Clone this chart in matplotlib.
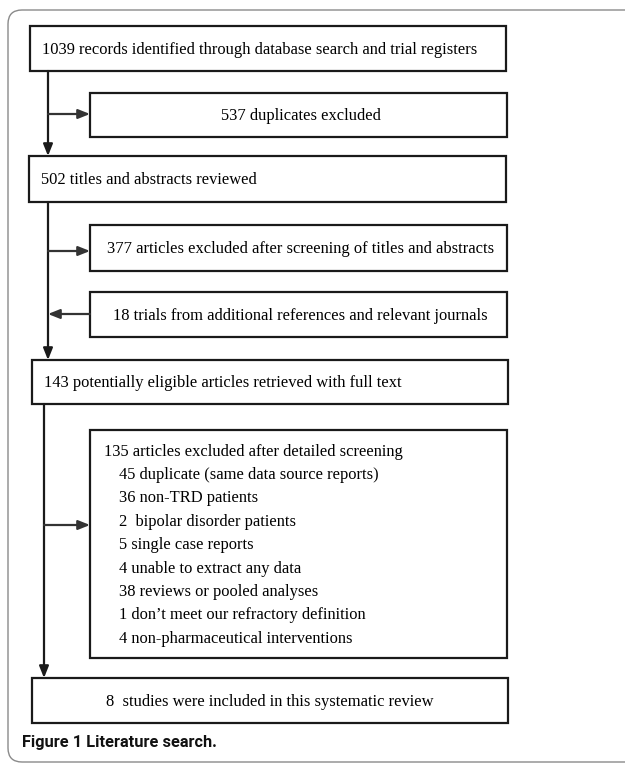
import matplotlib.pyplot as plt
from matplotlib.patches import FancyBboxPatch, Rectangle

# box texts of the flow chart
main_texts = [
    "1039 records identified through database search and trial registers",
    "502 titles and abstracts reviewed",
    "143 potentially eligible articles retrieved with full text",
    "8  studies were included in this systematic review",
]
side_texts = [
    "537 duplicates excluded",
    "377 articles excluded after screening of titles and abstracts",
    "18 trials from additional references and relevant journals",
]
excl_title = "135 articles excluded after detailed screening"
excl_reasons = [
    "45 duplicate (same data source reports)",
    "36 non-TRD patients",
    "2  bipolar disorder patients",
    "5 single case reports",
    "4 unable to extract any data",
    "38 reviews or pooled analyses",
    "1 don\u2019t meet our refractory definition",
    "4 non-pharmaceutical interventions",
]
caption = "Figure 1 Literature search."

W, H = 625, 765
fig = plt.figure(figsize=(W / 100, H / 100), dpi=100)
ax = fig.add_axes([0, 0, 1, 1])
ax.set_xlim(0, W)
ax.set_ylim(H, 0)
ax.axis('off')

serif = 'Liberation Serif'
fs = 11.9
lc = '#1a1a1a'

# outer frame
ax.add_patch(FancyBboxPatch((8, 10), 660, 752, boxstyle="round,pad=0,rounding_size=14",
                            fc='white', ec='#8a8a8a', lw=1.0))

def box(x0, y0, x1, y1):
    ax.add_patch(Rectangle((x0, y0), x1 - x0, y1 - y0, fill=False, ec=lc, lw=1.6))

def arrow(x0, y0, x1, y1, color=lc):
    ax.annotate("", xy=(x1, y1), xytext=(x0, y0),
                arrowprops=dict(arrowstyle="-|>,head_length=0.7,head_width=0.28",
                                color=color, lw=1.6, shrinkA=0, shrinkB=0))

# main boxes (left-aligned text except last)
main_boxes = [(30, 26, 506, 71), (29, 156, 506, 202), (32, 360, 508, 404), (32, 678, 508, 723)]
for i, (t, b) in enumerate(zip(main_texts, main_boxes)):
    box(*b)
    yc = (b[1] + b[3]) / 2 + 1
    if i == 3:
        ax.text((b[0] + b[2]) / 2, yc, t, ha='center', va='center', family=serif, fontsize=fs)
    else:
        ax.text(b[0] + 12, yc, t, ha='left', va='center', family=serif, fontsize=fs)

# side boxes
side_boxes = [(90, 93, 507, 137), (90, 225, 507, 271), (90, 292, 507, 337)]
for t, b in zip(side_texts, side_boxes):
    box(*b)
    ax.text((b[0] + b[2]) / 2 + 2, (b[1] + b[3]) / 2 + 1, t, ha='center', va='center',
            family=serif, fontsize=fs)

# exclusion box
box(90, 430, 507, 658)
ax.text(104, 452, excl_title, ha='left', va='center', family=serif, fontsize=fs)
for k, r in enumerate(excl_reasons):
    ax.text(119, 475 + k * 23.4, r, ha='left', va='center', family=serif, fontsize=fs)

# vertical connectors
arrow(48, 71, 48, 156)
arrow(48, 202, 48, 360)
arrow(44, 404, 44, 678)

# horizontal arrows
arrow(48, 114, 90, 114, '#333333')
arrow(48, 251, 90, 251, '#333333')
arrow(90, 314, 48, 314, '#333333')
arrow(44, 525, 90, 525, '#333333')

ax.text(22, 743, caption, ha='left', va='center', family='Roboto', fontweight='bold',
        fontsize=11.8, color='#111111')

fig.savefig('out.png', dpi=100)
